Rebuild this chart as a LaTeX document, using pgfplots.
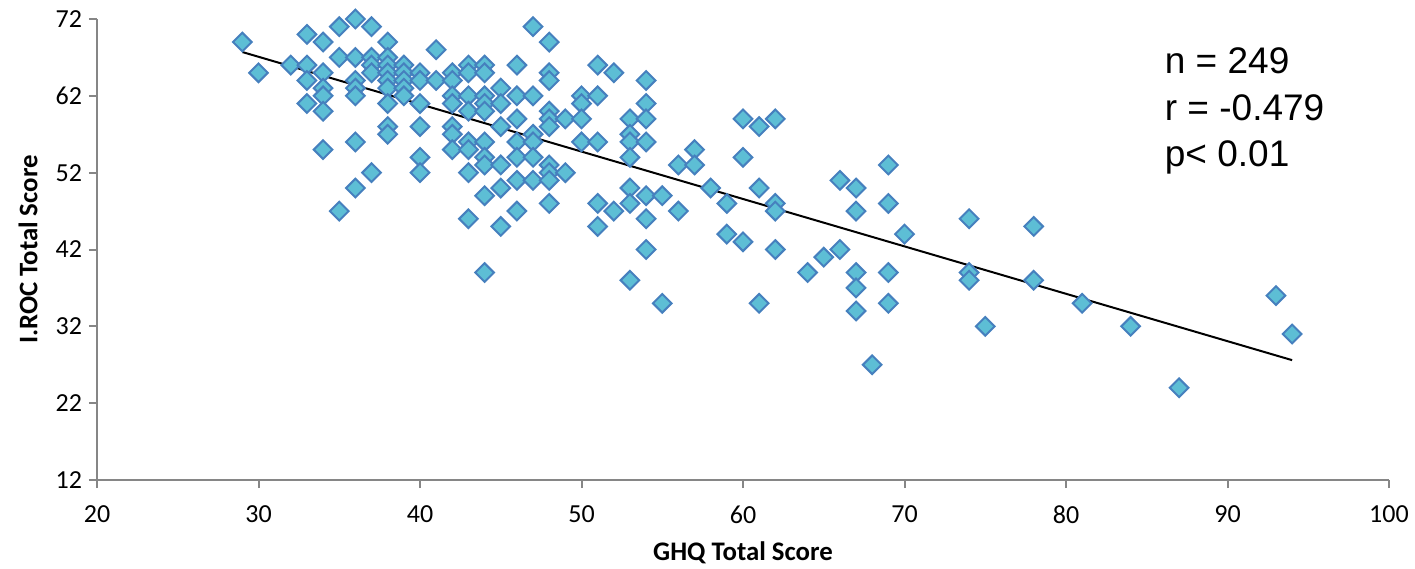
\documentclass[border=0pt]{standalone}
\usepackage{fontspec}
\setmainfont{Carlito}
\newfontfamily\arialf{Liberation Sans}
\usepackage{pgfplots}
\pgfplotsset{compat=1.18}
\definecolor{mfill}{RGB}{93,190,213}
\definecolor{medge}{RGB}{70,128,190}
\definecolor{axgray}{RGB}{134,134,134}
\begin{document}
\begin{tikzpicture}
\begin{axis}[
 scale only axis, width=646bp, height=230.5bp,
 xmin=20, xmax=100, ymin=12, ymax=72,
 xtick={20,30,...,100}, ytick={12,22,...,72},
 axis x line*=bottom, axis y line*=left,
 axis line style={axgray, line width=1bp, -},
 tick style={axgray, line width=1bp}, tick align=outside, major tick length=4bp,
 tick label style={font=\fontsize{13bp}{15bp}\selectfont, black},
 xticklabel style={yshift=-5.5bp},
 /pgf/number format/assume math mode=true,
 xlabel={GHQ Total Score}, ylabel={I.ROC Total Score},
 label style={font=\fontsize{13.4bp}{15bp}\selectfont\bfseries},
 xlabel style={at={(axis description cs:0.5,-0.1584)}, anchor=center},
 ylabel style={at={(axis description cs:-0.0534,0.5)}, anchor=center},
 clip=false,
]
\addplot[only marks, mark=square*, mark size=3.3bp,
  mark options={rotate=45, fill=mfill, draw=medge, line width=1bp}] table {
x y
29 69
30 65
32 66
33 70
33 66
33 64
33 61
34 69
34 65
34 63
34 62
34 60
34 55
35 71
35 67
35 47
36 72
36 67
36 64
36 63
36 62
36 56
36 50
37 71
37 67
37 66
37 65
37 52
38 69
38 67
38 66
38 65
38 64
38 63
38 61
38 58
38 57
39 66
39 65
39 64
39 63
39 62
40 65
40 64
40 61
40 58
40 54
40 52
41 68
41 64
42 65
42 64
42 62
42 61
42 58
42 57
42 55
43 66
43 65
43 62
43 60
43 56
43 55
43 52
43 46
44 66
44 65
44 62
44 61
44 60
44 56
44 54
44 53
44 49
44 39
45 63
45 61
45 58
45 53
45 50
45 45
46 66
46 62
46 59
46 56
46 54
46 51
46 47
47 71
47 62
47 57
47 56
47 54
47 51
48 69
48 65
48 64
48 60
48 59
48 58
48 53
48 52
48 51
48 48
49 59
49 52
50 62
50 61
50 59
50 56
51 66
51 62
51 56
51 48
51 45
52 65
52 47
53 59
53 57
53 56
53 54
53 50
53 48
53 38
54 64
54 61
54 59
54 56
54 49
54 46
54 42
55 49
55 35
56 53
56 47
57 55
57 53
58 50
59 48
59 44
60 59
60 54
60 43
61 58
61 50
61 35
62 59
62 48
62 47
62 42
64 39
65 41
66 51
66 42
67 50
67 47
67 39
67 37
67 34
68 27
69 53
69 48
69 39
69 35
70 44
74 46
74 39
74 38
75 32
78 45
78 38
81 35
84 32
87 24
93 36
94 31
};
\addplot[black, line width=1bp] coordinates {(29,67.7) (94,27.6)};
\node[anchor=base west, font=\arialf\fontsize{18.5bp}{22bp}\selectfont, inner sep=0pt] at (axis cs:86.1,64.97) {n = 249};
\node[anchor=base west, font=\arialf\fontsize{18.5bp}{22bp}\selectfont, inner sep=0pt] at (axis cs:86.1,58.85) {r = -0.479};
\node[anchor=base west, font=\arialf\fontsize{18.5bp}{22bp}\selectfont, inner sep=0pt] at (axis cs:86.1,52.86) {p< 0.01};
\coordinate (bl) at (rel axis cs:0,0);
\coordinate (tr) at (rel axis cs:1,1);
\end{axis}
\pgfresetboundingbox
\path ([shift={(-48.5bp,-44bp)}]bl) rectangle ([shift={(13bp,9.5bp)}]tr);
\end{tikzpicture}
\end{document}
